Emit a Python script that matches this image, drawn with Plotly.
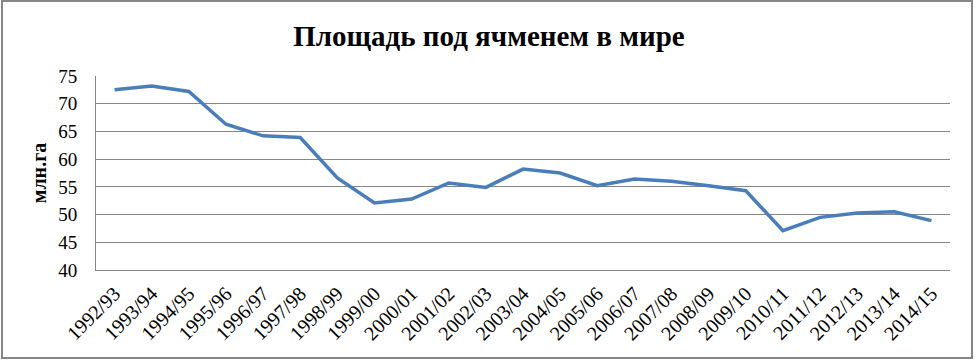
import plotly.graph_objects as go

seasons = ["1992/93", "1993/94", "1994/95", "1995/96", "1996/97", "1997/98", "1998/99",
           "1999/00", "2000/01", "2001/02", "2002/03", "2003/04", "2004/05", "2005/06",
           "2006/07", "2007/08", "2008/09", "2009/10", "2010/11", "2011/12", "2012/13",
           "2013/14", "2014/15"]
area = [72.5, 73.2, 72.2, 66.3, 64.2, 63.9, 56.6, 52.1, 52.8, 55.7, 54.9, 58.2, 57.5,
        55.2, 56.4, 56.0, 55.2, 54.3, 47.1, 49.5, 50.3, 50.5, 48.9]
y_ticks = [40, 45, 50, 55, 60, 65, 70, 75]

W, H = 975, 362
ML, MR, MT, MB = 96, 25, 76, 92
pw, ph = W - ML - MR, H - MT - MB

fig = go.Figure()
fig.add_trace(go.Scatter(x=seasons, y=area, mode="lines",
                         line=dict(color="#4a7ebb", width=3.5), hoverinfo="x+y"))

serif = "Liberation Serif, Times New Roman, serif"
fig.update_layout(
    width=W, height=H,
    margin=dict(l=ML, r=MR, t=MT, b=MB),
    paper_bgcolor="white", plot_bgcolor="white",
    showlegend=False,
    title=dict(text="<b>Площадь под ячменем в мире</b>", x=489 / W, xref="container",
               xanchor="center", y=1 - 36 / H, yanchor="middle",
               font=dict(family=serif, size=29, color="black")),
    xaxis=dict(type="category", tickangle=-45, showgrid=False,
               showline=True, linecolor="#868686", linewidth=1,
               ticks="", ticklabelstandoff=3,
               tickfont=dict(family=serif, size=20, color="black"),
               range=[-0.5, len(seasons) - 0.5]),
    yaxis=dict(range=[40, 75], tickvals=y_ticks, showgrid=True,
               gridcolor="#868686", gridwidth=1, showline=True,
               linecolor="#868686", linewidth=1, ticks="", zeroline=False,
               ticklabelstandoff=14,
               tickfont=dict(family=serif, size=19, color="black"),
               title=dict(text="<b>млн.га</b>", standoff=6,
                          font=dict(family=serif, size=20, color="black"))),
)

# outer chart border
x0 = (2 - ML) / pw
x1 = (972 - ML) / pw
y0 = -(358 - (MT + ph)) / ph
y1 = (MT + ph - 1) / ph
fig.add_shape(type="rect", xref="paper", yref="paper", x0=x0, x1=x1, y0=y0, y1=y1,
              line=dict(color="#868686", width=2), fillcolor="rgba(0,0,0,0)", layer="above")

fig.write_html("out.html")
